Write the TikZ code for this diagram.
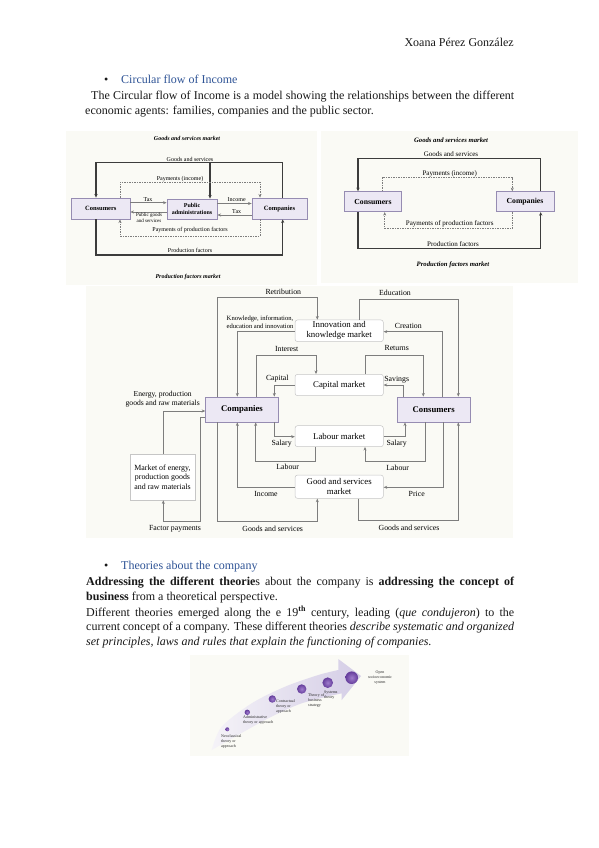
\documentclass[tikz,border=0pt]{standalone}
\usepackage{fontspec}
\setmainfont{Liberation Serif}
\usetikzlibrary{arrows.meta}
\definecolor{bgc}{RGB}{250,250,245}
\definecolor{boxfill}{RGB}{236,232,244}
\definecolor{boxdraw}{RGB}{150,140,178}
\definecolor{heading}{RGB}{47,84,150}
\definecolor{thickc}{RGB}{60,60,60}
\definecolor{thinc}{RGB}{125,125,125}
\definecolor{ballc}{RGB}{100,60,155}
\definecolor{ballin}{RGB}{160,125,205}
\definecolor{arrowl}{RGB}{245,243,248}
\definecolor{arrowr}{RGB}{212,205,230}
\definecolor{txt}{RGB}{25,25,25}
\begin{document}
\begin{tikzpicture}[x=1pt,y=-1pt,
  arr/.style={-{Stealth[length=3.6pt,width=3pt]}},
  agent/.style={draw=boxdraw,fill=boxfill,line width=0.8pt,inner sep=0pt,font=\fontsize{6.5}{7}\selectfont\bfseries},
  heavy/.style={draw=thickc,line width=1.2pt,-{Stealth[length=3.6pt,width=3.2pt]}},
  dashone/.style={draw=thinc,line width=0.5pt,dash pattern=on 1.5pt off 1pt,arr},
  thinone/.style={draw=thinc,line width=0.5pt,arr},
  thinthree/.style={draw=thinc,line width=0.6pt,arr},
  lbl/.style={font=\fontsize{6}{7}\selectfont,inner sep=0pt},
  lbltwo/.style={font=\fontsize{7}{8}\selectfont,inner sep=0pt},
  lblthree/.style={font=\fontsize{7.8}{9}\selectfont,inner sep=0pt},
  ttl/.style={font=\fontsize{6}{7}\selectfont\bfseries\itshape,inner sep=0pt},
  ttltwo/.style={font=\fontsize{6.7}{7}\selectfont\bfseries\itshape,inner sep=0pt},
  mktbox/.style={draw=gray!45,fill=white,rounded corners=2.5pt,line width=0.5pt,inner sep=0pt,align=center,font=\fontsize{8.8}{10}\selectfont,minimum width=88.3pt},
  body/.style={anchor=base west,inner sep=0pt,font=\fontsize{12}{14}\selectfont,text=txt},
  tiny/.style={anchor=north west,inner sep=0pt,align=left,font=\fontsize{4}{5}\selectfont,text=black!85},
  ballstyle/.style={inner color=ballin,outer color=ballc}
]
\useasboundingbox (0,0) rectangle (599,848);
\fill[white] (0,0) rectangle (599,848);

% ---------- page text ----------
\node[body,anchor=base east] (hdr) at (514,47) {Xoana Pérez González};
\node[body] (bul1) at (104,84) {\textbullet};
\node[body,text=heading] (h1) at (121,84) {Circular flow of Income};
\node[body] (b1) at (91,100) {\hbox to 423pt{The Circular flow of Income is a model showing the relationships between the different}};
\node[body] (b2) at (85,114.5) {economic agents: families, companies and the public sector.};

% ---------- diagram 1 ----------
\fill[bgc] (66,131) rectangle (317,285);
\node[agent,minimum width=58.3pt,minimum height=21pt] (cons1) at (100.8,208.5) {Consumers};
\node[agent,minimum width=50pt,minimum height=20pt,align=center,font=\fontsize{6}{6.5}\selectfont\bfseries] (pub1) at (192,209) {Public\\administrations};
\node[agent,minimum width=55pt,minimum height=21pt] (comp1) at (279.5,208.5) {Companies};
\draw[heavy] (comp1.north -| 282.7,0) -- (282.7,162.7) -| (cons1.north -| 96,0);
\draw[heavy] (210,162.7) -- (pub1.north -| 210,0);
\draw[dashone] (cons1.north -| 120,0) -- (120,182) -| (comp1.north -| 260,0);
\draw[thinone] (cons1.east |- 0,202.7) -- (pub1.west |- 0,202.7);
\draw[thinone] (pub1.west |- 0,212) -- (cons1.east |- 0,212);
\draw[thinone] (pub1.east |- 0,203.5) -- (comp1.west |- 0,203.5);
\draw[thinone] (comp1.west |- 0,215) -- (pub1.east |- 0,215);
\draw[dashone] (comp1.south -| 260,0) -- (260,236) -| (cons1.south -| 120,0);
\draw[heavy] (cons1.south -| 96,0) -- (96,255) -| (comp1.south -| 282.7,0);
\node[ttl] (t1a) at (187,138) {Goods and services market};
\node[lbl] (l1a) at (190,159) {Goods and services};
\node[lbl] (l1b) at (180,178.7) {Payments (income)};
\node[lbl] (l1c) at (148,199.5) {Tax};
\node[lbl,align=center,font=\fontsize{5}{5.8}\selectfont] (l1d) at (149,217.5) {Public goods\\and services};
\node[lbl] (l1e) at (236.7,200) {Income};
\node[lbl] (l1f) at (236.7,211.5) {Tax};
\node[lbl] (l1g) at (190,230.5) {Payments of production factors};
\node[lbl] (l1h) at (190,250) {Production factors};
\node[ttl] (t1b) at (188,276.7) {Production factors market};

% ---------- diagram 2 ----------
\fill[bgc] (321,131) rectangle (578,283);
\node[agent,minimum width=56.7pt,minimum height=20pt,font=\fontsize{7.7}{8}\selectfont\bfseries] (cons2) at (373,201.7) {Consumers};
\node[agent,minimum width=58pt,minimum height=20pt,font=\fontsize{7.7}{8}\selectfont\bfseries] (comp2) at (525,201.7) {Companies};
\draw[heavy] (comp2.north -| 540.7,0) -- (540.7,158.3) -| (cons2.north -| 358,0);
\draw[dashone] (cons2.north -| 382,0) -- (382,177.7) -| (comp2.north -| 512.3,0);
\draw[dashone] (comp2.south -| 512.3,0) -- (512.3,228.3) -| (cons2.south -| 384.7,0);
\draw[heavy] (cons2.south -| 358,0) -- (358,248.3) -| (comp2.south -| 540.7,0);
\node[ttltwo] (t2a) at (451,140) {Goods and services market};
\node[lbltwo] (l2a) at (451,154.5) {Goods and services};
\node[lbltwo] (l2b) at (449.7,173.5) {Payments (income)};
\node[lbltwo] (l2c) at (449.7,224) {Payments of production factors};
\node[lbltwo] (l2d) at (453,244) {Production factors};
\node[ttltwo] (t2b) at (453,265) {Production factors market};

% ---------- diagram 3 ----------
\fill[bgc] (86,286) rectangle (513,538);
\node[agent,minimum width=72.6pt,minimum height=25pt,font=\fontsize{8.7}{9}\selectfont\bfseries] (comp3) at (242,409.5) {Companies};
\node[agent,minimum width=72.7pt,minimum height=25pt,font=\fontsize{8.7}{9}\selectfont\bfseries] (cons3) at (433.7,409.5) {Consumers};
\node[mktbox,minimum height=21.7pt] (inn) at (339.2,330.8) {Innovation and\\knowledge market};
\node[mktbox,minimum height=21.4pt] (cap) at (339.2,385) {Capital market};
\node[mktbox,minimum height=21pt] (lab) at (339.2,436.2) {Labour market};
\node[mktbox,minimum height=23.3pt] (gsm) at (339.2,486.7) {Good and services\\market};
\node[draw=gray!45,fill=white,line width=0.5pt,inner sep=0pt,minimum width=65pt,minimum height=45.7pt,align=center,font=\fontsize{7.9}{9.5}\selectfont] (raw) at (162.5,477.2) {Market of energy,\\production goods\\and raw materials};

\draw[thinthree] (comp3.north -| 217.3,0) -- (217.3,297.7) -| (inn.north -| 317.3,0);
\draw[thinthree] (inn.north -| 359,0) -- (359,299) -| (cons3.north -| 458.3,0);
\draw[thinthree] (inn.west |- 0,331.7) -| (comp3.north -| 237.3,0);
\draw[thinthree] (cons3.north -| 442.3,0) |- (inn.east |- 0,331.7);
\draw[thinthree] (comp3.north -| 256.7,0) -- (256.7,355.7) -| (cap.north -| 316,0);
\draw[thinthree] (cap.north -| 365,0) -- (365,355.7) -| (cons3.north -| 423.3,0);
\draw[thinthree] (cap.west) -| (comp3.north -| 274.3,0);
\draw[thinthree] (cons3.north -| 403.3,0) |- (cap.east);
\draw[thinthree] (raw.north -| 163.3,0) |- (comp3.west |- 0,411);
\draw[thinthree] (comp3.west |- 0,417.3) -- (200.7,417.3) |- (163.3,521.7) -- (raw.south -| 163.3,0);
\draw[thinthree] (comp3.south -| 274.3,0) |- (lab.west |- 0,436.7);
\draw[thinthree] (lab.east |- 0,436.7) -| (cons3.south -| 405,0);
\draw[thinthree] (lab.south -| 315,0) -- (315,461.7) -| (comp3.south -| 255.7,0);
\draw[thinthree] (cons3.south -| 425.7,0) -- (425.7,461.7) -| (lab.south -| 365,0);
\draw[thinthree] (gsm.west |- 0,487.3) -| (comp3.south -| 237.3,0);
\draw[thinthree] (cons3.south -| 443.3,0) |- (gsm.east |- 0,487.3);
\draw[thinthree] (comp3.south -| 217.3,0) -- (217.3,521.7) -| (gsm.south -| 317.3,0);
\draw[thinthree] (gsm.south -| 358.3,0) -- (358.3,520.7) -| (cons3.south -| 458.3,0);

\node[lblthree] (l3a) at (283.3,292.3) {Retribution};
\node[lblthree] (l3b) at (395,293.3) {Education};
\node[lblthree,align=center,font=\fontsize{6.6}{8.3}\selectfont] (l3c) at (260,322.5) {Knowledge, information,\\education and innovation};
\node[lblthree] (l3d) at (408.3,325.7) {Creation};
\node[lblthree] (l3e) at (286.7,349.3) {Interest};
\node[lblthree] (l3f) at (396.7,348.3) {Returns};
\node[lblthree] (l3g) at (277.3,379) {Capital};
\node[lblthree] (l3h) at (396.7,380) {Savings};
\node[lblthree,align=center,font=\fontsize{7.6}{8.7}\selectfont] (l3i) at (162.7,399.3) {Energy, production\\goods and raw materials};
\node[lblthree] (l3j) at (281.7,444) {Salary};
\node[lblthree] (l3k) at (396.7,444) {Salary};
\node[lblthree] (l3l) at (287.7,467.3) {Labour};
\node[lblthree] (l3m) at (397.7,468.3) {Labour};
\node[lblthree] (l3n) at (266,494) {Income};
\node[lblthree] (l3o) at (416.7,494) {Price};
\node[lblthree] (l3p) at (175,528.3) {Factor payments};
\node[lblthree] (l3q) at (272.7,529.3) {Goods and services};
\node[lblthree] (l3r) at (409,528.3) {Goods and services};

% ---------- second section text ----------
\node[body] (bul2) at (104,569) {\textbullet};
\node[body,text=heading] (h2) at (121,569) {Theories about the company};
\node[body] (c1) at (86,585.5) {\hbox to 428pt{\textbf{Addressing the different theorie}s about the company is \textbf{addressing the concept of}}};
\node[body] (c2) at (86,600.5) {\textbf{business} from a theoretical perspective.};
\node[body] (c3) at (86,616) {\hbox to 428pt{Different theories emerged along the e 19\textsuperscript{\textbf{th}} century, leading (\textit{que condujeron}) to the}};
\node[body] (c4) at (86,630.5) {\hbox to 428pt{current concept of a company. These different theories \textit{describe systematic and organized}}};
\node[body] (c5) at (86,645.5) {\textit{set principles, laws and rules that explain the functioning of companies.}};

% ---------- arrow picture ----------
\fill[bgc] (190,655) rectangle (409,755.7);
\shade[left color=arrowl,right color=arrowr]
  plot[smooth] coordinates {(211.7,750) (221.7,726.7) (251.7,703.3) (285,686.7) (318.3,675) (338.3,670)}
  -- (338.3,659) -- (361,676) -- (341.7,700)
  -- plot[smooth] coordinates {(341.7,693.3) (301.7,703.3) (268.3,718.3) (235,736.7) (211.7,750)} -- cycle;
\shade[ballstyle] (227.3,729.3) circle (2pt);
\shade[ballstyle] (247.3,712.3) circle (2.7pt);
\shade[ballstyle] (272.3,699) circle (3.7pt);
\shade[ballstyle] (301.7,689) circle (4.7pt);
\shade[ballstyle] (327.7,682.7) circle (5.3pt);
\shade[ballstyle] (351.7,677.7) circle (6.3pt);
\node[tiny] (p1) at (221,735) {Neoclassical\\theory or\\approach};
\node[tiny] (p2) at (243,716) {Administrative\\theory or approach};
\node[tiny] (p3) at (276,700) {Contractual\\theory or\\approach};
\node[tiny] (p4) at (308,693) {Theory of\\business\\strategy};
\node[tiny] (p5) at (324,690.5) {Systems\\theory};
\node[tiny,anchor=north,align=center] (p6) at (380,671) {Open\\socioeconomic\\system};
\end{tikzpicture}
\end{document}
